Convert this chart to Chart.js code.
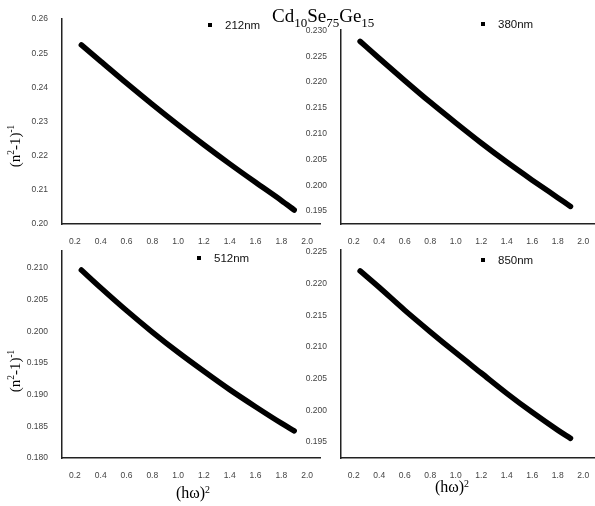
<!DOCTYPE html>
<html>
<head>
<meta charset="utf-8">
<script src="https://cdn.jsdelivr.net/npm/chart.js@4.4.1/dist/chart.umd.min.js"></script>
<style>
  html, body { margin: 0; padding: 0; background: #fff; overflow: hidden; }
  #wrap { position: relative; width: 595px; height: 506px; overflow: hidden; }
  #wrap canvas { position: absolute; left: 0; top: 0; }
  .serif { position: absolute; font-family: 'Liberation Serif', 'Times New Roman', serif; color: #000; white-space: nowrap; line-height: 1; }
  .serif sup { font-size: 62%; vertical-align: 0.55em; }
  .title { left: 272px; top: 6px; font-size: 19px; }
  .title .sb { font-size: 13px; position: relative; top: 5px; }
  .ytitle { font-size: 15px; transform: translate(-50%, -50%) rotate(-90deg); }
  .xtitle { font-size: 16px; transform: translate(-50%, -50%); }
  .legend { position: absolute; font-family: 'Liberation Sans', Arial, sans-serif; font-size: 11.5px; color: #111; white-space: nowrap; line-height: 14px; transform: translateY(-50%); }
  .legend i { display: inline-block; width: 4px; height: 4px; background: #000; margin-right: 13px; vertical-align: middle; position: relative; top: -1px; }
</style>
</head>
<body>
<div id="wrap">
  <canvas id="c212" width="600" height="506"></canvas>
  <canvas id="c380" width="600" height="506"></canvas>
  <canvas id="c512" width="600" height="506"></canvas>
  <canvas id="c850" width="600" height="506"></canvas>

  <div class="serif title">Cd<span class="sb">10</span>Se<span class="sb">75</span>Ge<span class="sb">15</span></div>

  <div class="legend" style="left:208px; top:25px;"><i></i>212nm</div>
  <div class="legend" style="left:481px; top:24px;"><i></i>380nm</div>
  <div class="legend" style="left:197px; top:258px;"><i></i>512nm</div>
  <div class="legend" style="left:481px; top:260px;"><i></i>850nm</div>

  <div class="serif ytitle" style="left:15px; top:146px;">(n<sup>2</sup>-1)<sup>-1</sup></div>
  <div class="serif ytitle" style="left:15px; top:371px;">(n<sup>2</sup>-1)<sup>-1</sup></div>
  <div class="serif xtitle" style="left:193px; top:493px;">(h&omega;)<sup>2</sup></div>
  <div class="serif xtitle" style="left:452px; top:487px;">(h&omega;)<sup>2</sup></div>
</div>

<script>
// photon energy squared, (hω)^2
const xValues = [0.25, 0.4, 0.6, 0.8, 1.0, 1.2, 1.4, 1.6, 1.8, 1.9];
const xTicks = [0.2, 0.4, 0.6, 0.8, 1.0, 1.2, 1.4, 1.6, 1.8, 2.0];

// (n^2-1)^-1 for each wavelength
const y212 = [0.2524, 0.2476, 0.2412, 0.2350, 0.2290, 0.2232, 0.2176, 0.2122, 0.2069, 0.2041];
const y380 = [0.2279, 0.2246, 0.2203, 0.2161, 0.2121, 0.2082, 0.2045, 0.2010, 0.1976, 0.1959];
const y512 = [0.2097, 0.2069, 0.2033, 0.1999, 0.1967, 0.1937, 0.1908, 0.1881, 0.1855, 0.1843];
const y850 = [0.2220, 0.2194, 0.2158, 0.2124, 0.2091, 0.2059, 0.2027, 0.1997, 0.1969, 0.1956];

const yTicks212 = [0.20, 0.21, 0.22, 0.23, 0.24, 0.25, 0.26];
const yTicks380 = [0.195, 0.200, 0.205, 0.210, 0.215, 0.220, 0.225, 0.230];
const yTicks512 = [0.180, 0.185, 0.190, 0.195, 0.200, 0.205, 0.210];
const yTicks850 = [0.195, 0.200, 0.205, 0.210, 0.215, 0.220, 0.225];

const CW = 600;
const CH = 506;
const Y_W = 40;
const X_H = 22;

const tickFont = { family: "'Liberation Sans', Arial, sans-serif", size: 8.5 };

function drawPanel(id, ys, yTicks, digits, yMin, yMax, area) {
  const [L, T, R, B] = area;
  const ctx = document.getElementById(id).getContext('2d');

  new Chart(ctx, {
    type: 'line',
    data: {
      datasets: [
        {
          data: xValues.map((x, i) => ({ x, y: ys[i] })),
          borderColor: '#000',
          borderWidth: 5.5,
          borderCapStyle: 'round',
          borderJoinStyle: 'round',
          pointRadius: 0,
          cubicInterpolationMode: 'monotone',
          fill: false,
        },
      ],
    },
    options: {
      responsive: false,
      animation: false,
      events: [],
      layout: {
        padding: { left: L - Y_W, top: T, right: CW - R, bottom: CH - B - X_H },
      },
      plugins: {
        legend: { display: false },
        tooltip: { enabled: false },
      },
      scales: {
        x: {
          type: 'linear',
          min: 0.1,
          max: 2.1,
          grid: { display: false },
          border: { color: '#222', width: 1.5 },
          afterBuildTicks: (s) => { s.ticks = xTicks.map((v) => ({ value: v })); },
          afterFit: (s) => { s.height = X_H; },
          ticks: {
            padding: 5,
            maxRotation: 0,
            autoSkip: false,
            color: '#444',
            font: tickFont,
            callback: (v) => Number(v).toFixed(1),
          },
        },
        y: {
          type: 'linear',
          min: yMin,
          max: yMax,
          grid: { display: false },
          border: { color: '#222', width: 1.5 },
          afterBuildTicks: (s) => { s.ticks = yTicks.map((v) => ({ value: v })); },
          afterFit: (s) => { s.width = Y_W; },
          ticks: {
            padding: 6,
            autoSkip: false,
            color: '#444',
            font: tickFont,
            callback: (v) => Number(v).toFixed(digits),
          },
        },
      },
    },
  });
}

drawPanel('c212', y212, yTicks212, 2, 0.20, 0.26, [62, 19, 320, 224]);
drawPanel('c380', y380, yTicks380, 3, 0.1925, 0.2301, [341, 30, 596, 224]);
drawPanel('c512', y512, yTicks512, 3, 0.180, 0.2127, [62, 251, 320, 458]);
drawPanel('c850', y850, yTicks850, 3, 0.1925, 0.2253, [341, 250, 596, 458]);
</script>
</body>
</html>
